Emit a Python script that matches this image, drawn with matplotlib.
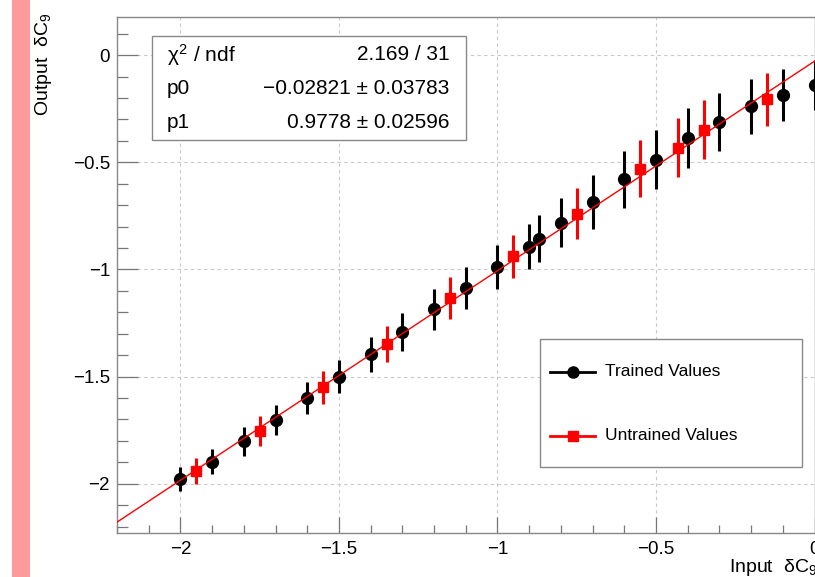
import numpy as np
import matplotlib
matplotlib.use('Agg')
import matplotlib.pyplot as plt
from matplotlib.patches import Rectangle
from matplotlib.lines import Line2D
from matplotlib.ticker import MultipleLocator, FuncFormatter

plt.rcParams['font.family'] = ['Liberation Sans', 'DejaVu Sans']
plt.rcParams['mathtext.fontset'] = 'custom'
plt.rcParams['mathtext.rm'] = 'Liberation Sans'
plt.rcParams['mathtext.it'] = 'Liberation Sans'

# trained points (black circles)
trained_x = [-2.0, -1.9, -1.8, -1.7, -1.6, -1.5, -1.4, -1.3, -1.2, -1.1, -1.0,
             -0.9, -0.87, -0.8, -0.7, -0.6, -0.5, -0.4, -0.3, -0.2, -0.1, 0.0]
trained_y = [-1.978, -1.897, -1.802, -1.702, -1.600, -1.500, -1.397, -1.293, -1.187, -1.086, -0.989,
             -0.893, -0.857, -0.782, -0.685, -0.579, -0.488, -0.386, -0.311, -0.238, -0.187, -0.140]
trained_err = [0.056, 0.060, 0.068, 0.070, 0.074, 0.076, 0.083, 0.089, 0.097, 0.099, 0.101,
               0.107, 0.109, 0.114, 0.124, 0.132, 0.138, 0.139, 0.134, 0.129, 0.121, 0.118]

# untrained points (red squares)
untrained_x = [-1.95, -1.75, -1.55, -1.35, -1.15, -0.95, -0.75, -0.55, -0.43, -0.35, -0.15]
untrained_y = [-1.939, -1.754, -1.550, -1.347, -1.134, -0.938, -0.740, -0.530, -0.431, -0.347, -0.206]
untrained_err = [0.061, 0.068, 0.076, 0.085, 0.097, 0.100, 0.119, 0.134, 0.136, 0.139, 0.125]

# fit result
p0, p0_err = -0.02821, 0.03783
p1, p1_err = 0.9778, 0.02596
chi2, ndf = 2.169, 31

legend_labels = ['Trained Values', 'Untrained Values']

fig = plt.figure(figsize=(8.15, 5.77), dpi=100)
ax = fig.add_axes([0.1436, 0.0763, 0.8558, 0.8942])

# pink strip on the left edge
fig.add_artist(Rectangle((12 / 815, 0), 18 / 815, 1, transform=fig.transFigure,
                         facecolor='#ff9a9a', edgecolor='none'))

ax.set_xlim(-2.2, 0)
ax.set_ylim(-2.23, 0.178)

ax.grid(True, which='major', color='#c8c8c8', linestyle=(0, (3, 3)), linewidth=0.8)
ax.set_axisbelow(True)

ax.errorbar(trained_x, trained_y, yerr=trained_err, fmt='o', color='black',
            markersize=8.5, elinewidth=2.2, capsize=0, zorder=3, clip_on=False)
ax.errorbar(untrained_x, untrained_y, yerr=untrained_err, fmt='s', color='#ff0000',
            markersize=7.8, elinewidth=2.2, capsize=0, zorder=3)

xf = np.array([-2.2, 0.0])
ax.plot(xf, p0 + p1 * xf, color='#ff0000', linewidth=1.0, zorder=4)

ax.xaxis.set_major_locator(MultipleLocator(0.5))
ax.xaxis.set_minor_locator(MultipleLocator(0.1))
ax.yaxis.set_major_locator(MultipleLocator(0.5))
ax.yaxis.set_minor_locator(MultipleLocator(0.1))
fmt = FuncFormatter(lambda v, pos: ('%g' % v).replace('-', '\u2212'))
ax.xaxis.set_major_formatter(fmt)
ax.yaxis.set_major_formatter(fmt)

ax.tick_params(axis='x', which='major', direction='in', length=11.5, width=0.9,
               color='#777777', labelsize=13.5, pad=6)
ax.tick_params(axis='x', which='minor', direction='in', length=5.8, width=0.9, color='#777777')
ax.tick_params(axis='y', which='major', direction='in', length=15, width=0.9,
               color='#777777', labelsize=13.5, pad=5)
ax.tick_params(axis='y', which='minor', direction='in', length=7.9, width=0.9, color='#777777')
for s in ax.spines.values():
    s.set_color('#888888')
    s.set_linewidth(1.0)

fig.text(43.7 / 815, 1 - 13 / 577, r'Output  $\delta C_9$', rotation=90,
         ha='center', va='top', fontsize=14)
fig.text(729 / 815, 1 - 567 / 577, r'Input  $\delta C_9$', ha='left', va='center', fontsize=14)

# stats box
fig.add_artist(Rectangle((151.7 / 815, 1 - 139.7 / 577), (466 - 151.7) / 815, (139.7 - 36) / 577,
                         transform=fig.transFigure, facecolor='white', edgecolor='#888888', lw=1.0))
rows = [(r'$\chi^2$ / ndf', '%.3f / %d' % (chi2, ndf)),
        ('p0', ('%.5f \u00b1 %.5f' % (p0, p0_err)).replace('-', '\u2212')),
        ('p1', '%.4f \u00b1 %.5f' % (p1, p1_err))]
for i, (lab, val) in enumerate(rows):
    yy = 1 - (55 + 33.5 * i) / 577
    fig.text(166.7 / 815, yy, lab, ha='left', va='center', fontsize=15)
    fig.text(449.3 / 815, yy, val, ha='right', va='center', fontsize=15)

# legend box
fig.add_artist(Rectangle((540 / 815, 1 - 467.3 / 577), (801.7 - 540) / 815, (467.3 - 339.3) / 577,
                         transform=fig.transFigure, facecolor='white', edgecolor='#888888', lw=1.0))
styles = [('black', 'o', 8.0), ('#ff0000', 's', 7.5)]
for i, (lab, (c, m, ms)) in enumerate(zip(legend_labels, styles)):
    yy = 1 - (372 + 64 * i) / 577
    fig.add_artist(Line2D([550 / 815, 595 / 815], [yy, yy], transform=fig.transFigure,
                          color=c, lw=2.0))
    fig.add_artist(Line2D([572.5 / 815], [yy], transform=fig.transFigure, color=c,
                          marker=m, markersize=ms, lw=0))
    fig.text(605 / 815, yy, lab, ha='left', va='center', fontsize=12.5)

plt.savefig('out.png', dpi=100)
